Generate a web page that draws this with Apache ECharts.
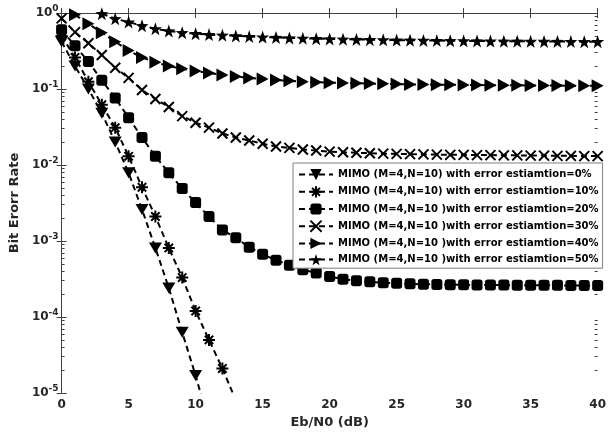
<!DOCTYPE html>
<html><head><meta charset="utf-8">
<script src="https://cdn.jsdelivr.net/npm/echarts@6/dist/echarts.min.js"></script>
<style>html,body{margin:0;padding:0;background:#fff}#c{width:609px;height:443px}</style>
</head><body><div id="c"></div>
<script>
// Eb/N0 (dB)
const ebn0 = [0,1,2,3,4,5,6,7,8,9,10,11,12,13,14,15,16,17,18,19,20,21,22,23,24,25,26,27,28,29,30,31,32,33,34,35,36,37,38,39,40];

const names = [
  'MIMO (M=4,N=10) with error estiamtion=0%',
  'MIMO (M=4,N=10) with error estiamtion=10%',
  'MIMO (M=4,N=10 )with error estiamtion=20%',
  'MIMO (M=4,N=10 )with error estiamtion=30%',
  'MIMO (M=4,N=10 )with error estiamtion=40%',
  'MIMO (M=4,N=10 )with error estiamtion=50%'
];

// BER values (null = no point)
const ber0 = [0.42,0.2,0.10,0.048,0.020,0.0079,0.0026,8.1e-4,2.4e-4,6.3e-5,1.7e-5,4e-6];
const ber10 = [0.5,0.26,0.125,0.062,0.031,0.013,0.0051,0.0021,8.1e-4,3.3e-4,1.2e-4,5e-5,2.1e-5,8e-6];
const ber20 = [0.6,0.37,0.23,0.13,0.076,0.042,0.023,0.013,0.0079,0.0049,0.0032,0.0021,0.0014,0.0011,8.3e-4,6.7e-4,5.6e-4,4.8e-4,4.2e-4,3.8e-4,3.4e-4,3.15e-4,3.0e-4,2.9e-4,2.82e-4,2.77e-4,2.73e-4,2.7e-4,2.68e-4,2.66e-4,2.65e-4,2.64e-4,2.63e-4,2.63e-4,2.62e-4,2.62e-4,2.61e-4,2.61e-4,2.6e-4,2.6e-4,2.6e-4];
const ber30 = [0.85,0.56,0.4,0.28,0.19,0.14,0.097,0.074,0.058,0.044,0.036,0.031,0.026,0.023,0.021,0.019,0.0175,0.0168,0.016,0.0155,0.015,0.0147,0.0145,0.0143,0.0141,0.014,0.0139,0.0138,0.0137,0.0136,0.0136,0.0135,0.0135,0.0134,0.0134,0.0133,0.0133,0.0132,0.0132,0.0131,0.0131];
const ber40 = [null,0.95,0.72,0.55,0.42,0.32,0.26,0.225,0.2,0.185,0.172,0.162,0.153,0.146,0.14,0.135,0.131,0.128,0.125,0.123,0.121,0.12,0.119,0.118,0.117,0.116,0.115,0.115,0.114,0.114,0.113,0.113,0.112,0.112,0.112,0.111,0.111,0.111,0.11,0.11,0.11];
const ber50 = [null,null,null,0.98,0.84,0.76,0.68,0.62,0.58,0.55,0.535,0.52,0.51,0.5,0.49,0.482,0.476,0.47,0.465,0.46,0.456,0.452,0.449,0.446,0.443,0.44,0.438,0.436,0.434,0.432,0.43,0.428,0.427,0.426,0.425,0.424,0.423,0.422,0.421,0.42,0.42];

const xTicks = [0,5,10,15,20,25,30,35,40];
const yDecades = [-5,-4,-3,-2,-1,0];

const STAR = 'path://M10,0 L12.35,6.76 L19.51,6.91 L13.8,11.24 L15.88,18.09 L10,14 L4.12,18.09 L6.2,11.24 L0.49,6.91 L7.65,6.76 Z';
const XMARK = 'path://M0,0 L10,10 M10,0 L0,10';
const AST = 'path://M5,0 L5,10 M0,5 L10,5 M1.5,1.5 L8.5,8.5 M8.5,1.5 L1.5,8.5';

const markers = [
  {symbol:'triangle', size:[13,11], rotate:180, bw:0},
  {symbol:AST, size:12, rotate:0, bw:2},
  {symbol:'roundRect', size:11, rotate:0, bw:0},
  {symbol:XMARK, size:10, rotate:0, bw:2},
  {symbol:'triangle', size:[13,12], rotate:-90, bw:0},
  {symbol:STAR, size:13, rotate:0, bw:0}
];
const allVals = [ber0, ber10, ber20, ber30, ber40, ber50];

const minorVals = [];
for (let e = -5; e < 0; e++) for (let m = 2; m <= 9; m++) minorVals.push(e + Math.log10(m));

const axisCol = '#404040';
const txtCol = '#262626';
const fontFam = "'DejaVu Sans', Verdana, sans-serif";

const series = allVals.map((vals, i) => ({
  name: names[i],
  type: 'line',
  xAxisIndex: 0, yAxisIndex: 0,
  data: vals.map((v, j) => v == null ? null : [ebn0[j], v]).filter(d => d),
  symbol: markers[i].symbol,
  symbolSize: markers[i].size,
  symbolRotate: markers[i].rotate,
  showAllSymbol: true,
  clip: true,
  lineStyle: {color:'#000', width:2, type:[6,4]},
  itemStyle: {color:'#000', borderColor:'#000', borderWidth: markers[i].bw},
  emphasis: {disabled:true},
  animation: false
}));

const chart = echarts.init(document.getElementById('c'), null, {renderer:'canvas'});
chart.setOption({
  animation: false,
  backgroundColor: '#fff',
  textStyle: {fontFamily: fontFam},
  grid: {left:58, top:13, right:9, bottom:50, containLabel:false},
  legend: {
    data: names,
    orient: 'vertical',
    left: 293, top: 163,
    backgroundColor: '#fff',
    borderColor: '#7f7f7f', borderWidth: 1,
    padding: [6, 4, 3, 5],
    itemWidth: 34, itemHeight: 14, itemGap: 5,
    textStyle: {fontSize: 10, fontWeight: 'bold', color: '#000', fontFamily: fontFam}
  },
  xAxis: [
    {type:'value', position:'bottom', min:0, max:40, interval:5,
     name:'Eb/N0 (dB)', nameLocation:'middle', nameGap:22,
     nameTextStyle:{fontSize:13, fontWeight:'bold', color:txtCol, fontFamily:fontFam},
     axisLine:{show:true, lineStyle:{color:axisCol, width:1}},
     axisTick:{show:true, inside:true, length:5, lineStyle:{color:axisCol}},
     axisLabel:{fontSize:12, fontWeight:'bold', color:txtCol, margin:6, fontFamily:fontFam},
     splitLine:{show:false}},
    {type:'value', position:'top', min:0, max:40, interval:5,
     axisLine:{show:true, lineStyle:{color:axisCol, width:1}},
     axisTick:{show:true, inside:true, length:5, lineStyle:{color:axisCol}},
     axisLabel:{show:false}, splitLine:{show:false}}
  ],
  yAxis: [
    {type:'log', logBase:10, position:'left', min:1e-5, max:1,
     name:'Bit Erorr Rate', nameLocation:'middle', nameGap:37,
     nameTextStyle:{fontSize:13, fontWeight:'bold', color:txtCol, fontFamily:fontFam},
     axisLine:{show:true, lineStyle:{color:axisCol, width:1}},
     axisTick:{show:true, inside:true, length:5, lineStyle:{color:axisCol}},
     axisLabel:{margin:3, formatter: v => '{b|10}{s|' + Math.round(Math.log10(v)) + '}',
       rich:{ b:{fontSize:12, fontWeight:'bold', color:txtCol, lineHeight:18, fontFamily:fontFam},
              s:{fontSize:9, fontWeight:'bold', color:txtCol, verticalAlign:'top', lineHeight:10, fontFamily:fontFam} }},
     splitLine:{show:false}},
    {type:'log', logBase:10, position:'right', min:1e-5, max:1,
     axisLine:{show:true, lineStyle:{color:axisCol, width:1}},
     axisTick:{show:true, inside:true, length:5, lineStyle:{color:axisCol}},
     axisLabel:{show:false}, splitLine:{show:false}},
    {type:'value', position:'left', min:-5, max:0,
     axisLine:{show:false},
     axisTick:{show:true, inside:true, length:3, customValues:minorVals, lineStyle:{color:axisCol}},
     axisLabel:{show:false}, splitLine:{show:false}},
    {type:'value', position:'right', min:-5, max:0,
     axisLine:{show:false},
     axisTick:{show:true, inside:true, length:3, customValues:minorVals, lineStyle:{color:axisCol}},
     axisLabel:{show:false}, splitLine:{show:false}}
  ],
  series: series
});
</script></body></html>
